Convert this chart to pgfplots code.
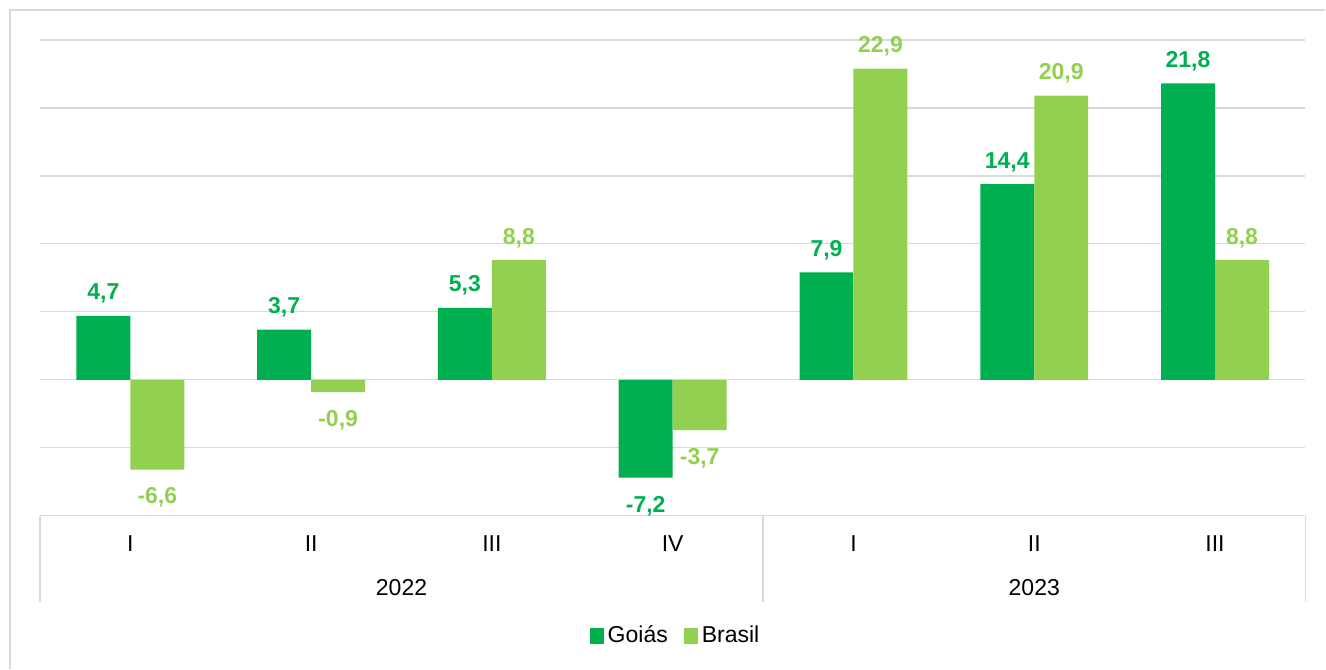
\documentclass[border=0pt]{standalone}
\usepackage{fontspec}
\setmainfont{Liberation Sans}
\usepackage{pgfplots}
\pgfplotsset{compat=1.18}
\usetikzlibrary{calc}
\definecolor{goias}{HTML}{00B050}
\definecolor{brasil}{HTML}{92D050}
\definecolor{gridgray}{HTML}{D9D9D9}
\newcommand{\lab}{\fontsize{11.5}{13.8}\selectfont}

\begin{document}
\begin{tikzpicture}
\begin{axis}[
  scale only axis, width=633pt, height=238pt,
  ybar=0pt, bar width=27pt,
  xmin=-0.5, xmax=6.5, ymin=-10, ymax=25,
  xtick=data, xticklabels={I,II,III,IV,I,II,III},
  ytick={-10,-5,...,25}, yticklabels={},
  ymajorgrids, grid style={gridgray, line width=0.6pt},
  axis line style={draw=none}, major tick length=0pt, tick style={draw=none},
  xticklabel style={font=\lab, anchor=center, yshift=-14pt, text=black},
  clip=false,
  visualization depends on={rawy \as \rawy},
  nodes near coords={\pgfmathprintnumber[fixed,fixed zerofill,precision=1,use comma,assume math mode=true]{\pgfplotspointmeta}},
  nodes near coords style={font=\lab\bfseries, inner sep=0pt, yshift={(\rawy>0)*15pt-9pt}},
  legend style={at={(0.503,-0.252)}, anchor=center, legend columns=2, draw=none, fill=none, font=\lab,
    /tikz/every even column/.append style={column sep=6pt}},
  legend image code/.code={\fill[#1] (0pt,-4pt) rectangle (7pt,4pt);},
]
\addplot[fill=goias, draw=none, every node near coord/.append style={text=goias}]
  coordinates {(0,4.7) (1,3.7) (2,5.3) (3,-7.2) (4,7.9) (5,14.4) (6,21.8)};
\addlegendentry{Goiás}
\addplot[fill=brasil, draw=none, every node near coord/.append style={text=brasil}]
  coordinates {(0,-6.6) (1,-0.9) (2,8.8) (3,-3.7) (4,22.9) (5,20.9) (6,8.8)};
\addlegendentry{Brasil}
% category table below the plot
\draw[gridgray, line width=0.6pt] (axis cs:-0.5,-10) -- ([yshift=-43pt]axis cs:-0.5,-10);
\draw[gridgray, line width=0.6pt] (axis cs:3.5,-10) -- ([yshift=-43pt]axis cs:3.5,-10);
\draw[gridgray, line width=0.6pt] (axis cs:6.5,-10) -- ([yshift=-43pt]axis cs:6.5,-10);
\node[font=\lab, yshift=-36pt] at (axis cs:1.5,-10) {2022};
\node[font=\lab, yshift=-36pt] at (axis cs:5,-10) {2023};
\end{axis}
\coordinate (SW) at (current axis.south west);
\draw[gridgray, line width=0.6pt] ($(SW)+(-15pt,-76.5pt)$) |- ($(SW)+(643pt,253pt)$);
\path ($(SW)+(-20pt,-76.5pt)$) rectangle ($(SW)+(643pt,258pt)$);
\end{tikzpicture}
\end{document}
